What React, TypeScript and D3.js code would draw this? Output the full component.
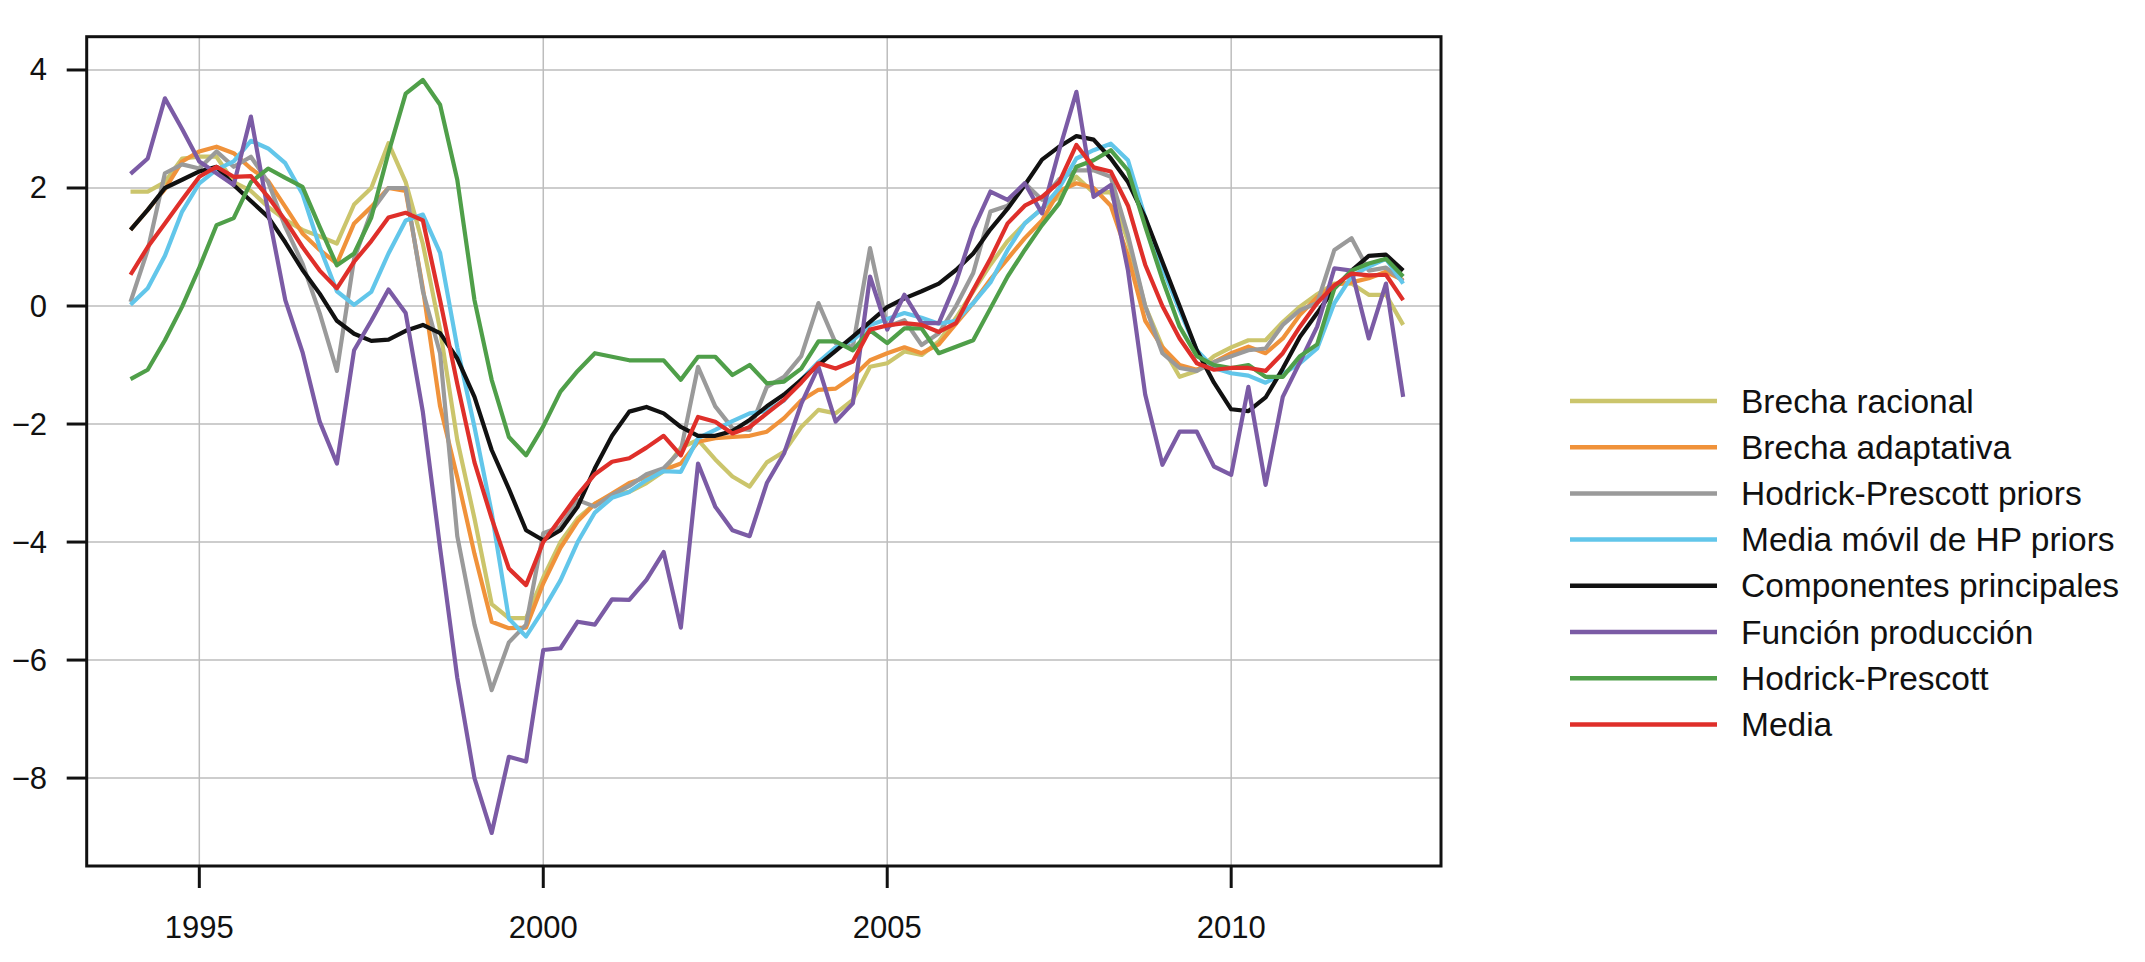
import React from 'react';
import * as d3 from 'd3';

// quarterly observations, 1994Q1 .. 2012Q3
const quarters: number[] = d3.range(75).map((i) => 1994 + i / 4);

const xTicks = [1995, 2000, 2005, 2010];
const yTicks = [-8, -6, -4, -2, 0, 2, 4];
const yTickLabels = ['\u22128', '\u22126', '\u22124', '\u22122', '0', '2', '4'];

const brechaRacional = [
  1.94, 1.94, 2.1, 2.5, 2.53, 2.53, 2.1, 1.95, 1.68, 1.46,
  1.29, 1.18, 1.06, 1.72, 2.0, 2.76, 2.1, 1.05, -0.4, -2.27,
  -3.6, -5.05, -5.29, -5.29, -4.6, -4.0, -3.6, -3.35, -3.2, -3.15,
  -3.0, -2.8, -2.4, -2.27, -2.6, -2.89, -3.06, -2.65, -2.47, -2.05,
  -1.76, -1.82, -1.59, -1.03, -0.97, -0.77, -0.83, -0.6, -0.2, 0.25,
  0.7, 1.1, 1.4, 1.65, 1.85, 2.19, 1.92, 1.93, 1.1, 0.0,
  -0.69, -1.2, -1.1, -0.85, -0.7, -0.58, -0.58, -0.27, -0.01, 0.2,
  0.38, 0.38, 0.19, 0.19, -0.32,
];

const brechaAdaptativa = [
  1.29, 1.63, 1.98, 2.45, 2.62, 2.7, 2.59, 2.33, 2.12, 1.68,
  1.23, 0.95, 0.72, 1.4, 1.68, 2.0, 1.95, 0.3, -1.7, -2.9,
  -4.2, -5.35, -5.46, -5.45, -4.7, -4.1, -3.65, -3.35, -3.18, -3.0,
  -2.9, -2.78, -2.67, -2.3, -2.24, -2.22, -2.2, -2.13, -1.9, -1.6,
  -1.42, -1.4, -1.2, -0.92, -0.8, -0.7, -0.8, -0.65, -0.3, 0.05,
  0.45, 0.8, 1.15, 1.45, 1.95, 2.08, 2.0, 1.7, 0.85, -0.25,
  -0.7, -1.0, -1.08, -0.95, -0.8, -0.69, -0.8, -0.55, -0.15, 0.15,
  0.36, 0.4, 0.47, 0.58, 0.44,
];

const hpPriors = [
  0.07, 0.95, 2.25, 2.4, 2.33, 2.62, 2.36, 2.53, 2.1, 1.34,
  0.72, -0.12, -1.1, 0.8, 1.6, 2.0, 2.0, 0.25, -0.8, -3.9,
  -5.4, -6.51, -5.7, -5.4, -3.85, -3.74, -3.29, -3.4, -3.2, -3.05,
  -2.85, -2.75, -2.45, -1.03, -1.7, -2.07, -2.1, -1.37, -1.2, -0.85,
  0.05, -0.63, -0.69, 0.98, -0.35, -0.24, -0.66, -0.46, 0.0, 0.56,
  1.6, 1.7, 2.08, 1.8, 2.15, 2.3, 2.3, 2.19, 1.2, 0.0,
  -0.8, -1.05, -1.1, -0.95, -0.85, -0.75, -0.72, -0.32, -0.07, 0.05,
  0.95, 1.15, 0.6, 0.65, 0.42,
];

const mediaMovilHP = [
  0.02, 0.3, 0.85, 1.6, 2.08, 2.31, 2.45, 2.8, 2.67, 2.42,
  1.9, 1.0, 0.25, 0.02, 0.24, 0.89, 1.45, 1.55, 0.9, -0.7,
  -2.05, -3.5, -5.3, -5.6, -5.15, -4.65, -4.0, -3.5, -3.25, -3.15,
  -2.95, -2.8, -2.81, -2.24, -2.1, -1.95, -1.82, -1.78, -1.6, -1.25,
  -0.95, -0.7, -0.58, -0.32, -0.22, -0.12, -0.2, -0.3, -0.25, 0.05,
  0.4, 0.95, 1.4, 1.65, 2.0, 2.5, 2.64, 2.75, 2.47, 1.5,
  0.65, -0.07, -0.75, -1.05, -1.14, -1.18, -1.3, -1.15, -0.97, -0.72,
  0.05, 0.5, 0.67, 0.8, 0.38,
];

const componentes = [
  1.29, 1.63, 2.0, 2.14, 2.28, 2.36, 2.05, 1.78, 1.51, 1.08,
  0.61, 0.21, -0.25, -0.47, -0.59, -0.57, -0.42, -0.32, -0.46, -0.89,
  -1.54, -2.44, -3.1, -3.8, -3.97, -3.8, -3.4, -2.75, -2.2, -1.79,
  -1.71, -1.82, -2.05, -2.2, -2.2, -2.12, -1.93, -1.7, -1.5, -1.25,
  -1.0, -0.76, -0.52, -0.27, -0.02, 0.13, 0.25, 0.38, 0.61, 0.89,
  1.3, 1.65, 2.05, 2.48, 2.7, 2.88, 2.82, 2.5, 2.1, 1.5,
  0.75, 0.0, -0.75, -1.3, -1.75, -1.78, -1.55, -1.06, -0.52, -0.12,
  0.3, 0.6, 0.85, 0.87, 0.6,
];

const funcionProduccion = [
  2.24, 2.5, 3.52, 3.0, 2.45, 2.25, 2.05, 3.21, 1.6, 0.1,
  -0.78, -1.96, -2.67, -0.75, -0.25, 0.28, -0.12, -1.8, -4.1, -6.3,
  -8.0, -8.93, -7.64, -7.72, -5.83, -5.8, -5.35, -5.4, -4.97, -4.98,
  -4.64, -4.17, -5.45, -2.67, -3.4, -3.8, -3.9, -3.0, -2.5, -1.66,
  -1.03, -1.96, -1.65, 0.5, -0.4, 0.19, -0.29, -0.29, 0.4, 1.3,
  1.94, 1.8, 2.08, 1.57, 2.64, 3.63, 1.85, 2.05, 0.6, -1.5,
  -2.69, -2.13, -2.13, -2.72, -2.86, -1.37, -3.03, -1.54, -0.95, -0.35,
  0.64, 0.6, -0.55, 0.38, -1.54,
];

const hodrickPrescott = [
  -1.24, -1.08, -0.58, -0.01, 0.65, 1.37, 1.49, 2.1, 2.33, 2.17,
  2.02, 1.34, 0.69, 0.89, 1.5, 2.6, 3.6, 3.83, 3.41, 2.14,
  0.1, -1.25, -2.22, -2.53, -2.04, -1.45, -1.1, -0.8, -0.86, -0.92,
  -0.92, -0.92, -1.25, -0.86, -0.86, -1.17, -1.0, -1.31, -1.28, -1.06,
  -0.6, -0.6, -0.75, -0.41, -0.63, -0.38, -0.38, -0.8, -0.69, -0.58,
  -0.04, 0.5, 0.95, 1.37, 1.74, 2.36, 2.47, 2.64, 2.3, 1.35,
  0.45, -0.35, -0.85, -1.0, -1.05, -1.0, -1.2, -1.2, -0.85, -0.65,
  0.3, 0.6, 0.72, 0.8, 0.5,
];

const media = [
  0.53, 1.0, 1.4, 1.8, 2.19, 2.36, 2.19, 2.2, 1.85, 1.45,
  1.0, 0.6, 0.3, 0.75, 1.1, 1.5, 1.58, 1.45, 0.1, -1.32,
  -2.65, -3.6, -4.45, -4.73, -4.0, -3.6, -3.2, -2.85, -2.64, -2.58,
  -2.4, -2.2, -2.53, -1.88, -1.96, -2.16, -2.05, -1.82, -1.59, -1.3,
  -0.97, -1.06, -0.94, -0.4, -0.33, -0.29, -0.32, -0.44, -0.29, 0.27,
  0.8, 1.4, 1.7, 1.85, 2.1, 2.73, 2.35, 2.28, 1.7, 0.7,
  0.0, -0.55, -0.97, -1.08, -1.05, -1.05, -1.1, -0.8, -0.35, 0.05,
  0.35, 0.55, 0.52, 0.53, 0.1,
];

const seriesNames = [
  'Brecha racional',
  'Brecha adaptativa',
  'Hodrick-Prescott priors',
  'Media móvil de HP priors',
  'Componentes principales',
  'Función producción',
  'Hodrick-Prescott',
  'Media',
];
const seriesValues = [
  brechaRacional, brechaAdaptativa, hpPriors, mediaMovilHP,
  componentes, funcionProduccion, hodrickPrescott, media,
];
const seriesColors = [
  '#cbc56c', '#f0923a', '#9a9a9a', '#62c6ea',
  '#111111', '#7b5ba5', '#4f9f49', '#df2f2a',
];

const W = 2145;
const H = 962;
const FONT = '"Liberation Sans", Arial, Helvetica, sans-serif';

const App = () => {
  const x = d3.scaleLinear().domain([1993.363, 2013.05]).range([86.7, 1441]);
  const y = d3.scaleLinear().domain([-9.49, 4.564]).range([866, 36.7]);
  const [x0, x1] = x.range();
  const [y0, y1] = y.range();

  const line = d3.line<number>()
    .x((d, i) => x(quarters[i]))
    .y((d) => y(d));

  return (
    <svg width={W} height={H} style={{ position: 'absolute', left: 0, top: 0, background: '#fff' }}>
      {/* grid */}
      <g stroke="#bdbdbd" strokeWidth={1.5}>
        {xTicks.map((t) => (
          <line key={'gx' + t} x1={x(t)} x2={x(t)} y1={y1} y2={y0} />
        ))}
        {yTicks.map((t) => (
          <line key={'gy' + t} x1={x0} x2={x1} y1={y(t)} y2={y(t)} />
        ))}
      </g>

      {/* series */}
      <g fill="none" strokeWidth={4.2} strokeLinejoin="round" strokeLinecap="butt">
        {seriesValues.map((vals, k) => (
          <path key={seriesNames[k]} d={line(vals) ?? ''} stroke={seriesColors[k]} />
        ))}
      </g>

      {/* box */}
      <rect x={x0} y={y1} width={x1 - x0} height={y0 - y1} fill="none" stroke="#111" strokeWidth={3} />

      {/* ticks */}
      <g stroke="#111" strokeWidth={3}>
        {yTicks.map((t) => (
          <line key={'ty' + t} x1={x0 - 20} x2={x0} y1={y(t)} y2={y(t)} />
        ))}
        {xTicks.map((t) => (
          <line key={'tx' + t} x1={x(t)} x2={x(t)} y1={y0} y2={y0 + 22} />
        ))}
      </g>
      <g fontFamily={FONT} fontSize={31} fill="#111">
        {yTicks.map((t, i) => (
          <text key={'ly' + t} x={47} y={y(t)} textAnchor="end" dominantBaseline="central">
            {yTickLabels[i]}
          </text>
        ))}
        {xTicks.map((t) => (
          <text key={'lx' + t} x={x(t)} y={938} textAnchor="middle">
            {t}
          </text>
        ))}
      </g>

      {/* legend */}
      <g fontFamily={FONT} fontSize={33.5} fill="#111">
        {seriesNames.map((name, k) => {
          const ly = 401 + k * 46.2;
          return (
            <g key={'lg' + name}>
              <line x1={1570} x2={1717} y1={ly} y2={ly} stroke={seriesColors[k]} strokeWidth={4.5} />
              <text x={1741} y={ly} dominantBaseline="central">{name}</text>
            </g>
          );
        })}
      </g>
    </svg>
  );
};

export default App;
